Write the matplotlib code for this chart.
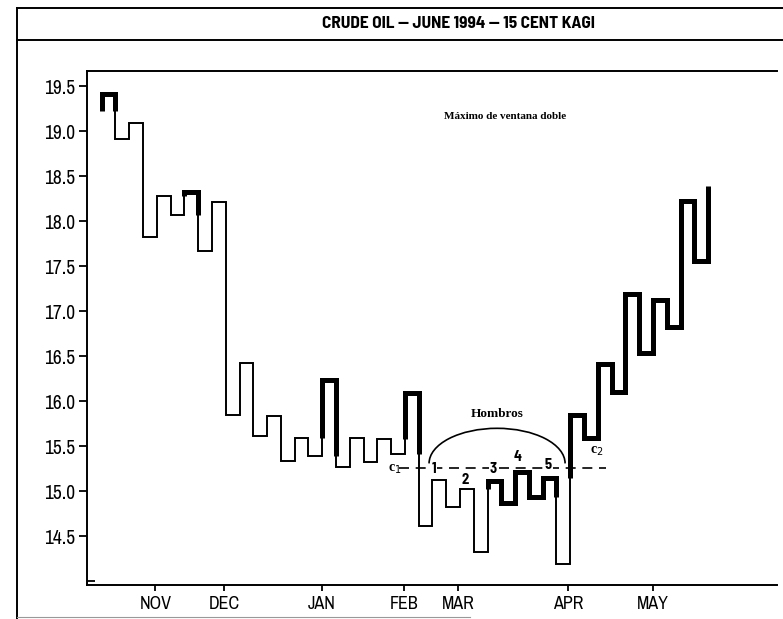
import matplotlib
matplotlib.use("Agg")
import numpy as np
import matplotlib.pyplot as plt
from matplotlib.patches import Arc
from matplotlib.lines import Line2D

# ---- data: 15 cent kagi, reversal prices (crude oil, june 1994) ----
start_price = 19.23
prices = [19.41, 18.91, 19.09, 17.83, 18.28, 18.07, 18.33, 17.67, 18.21, 15.85,
          16.43, 15.61, 15.84, 15.34, 15.59, 15.39, 16.24, 15.27, 15.59, 15.33,
          15.58, 15.41, 16.09, 14.61, 15.13, 14.83, 15.03, 14.33, 15.12, 14.87,
          15.22, 14.94, 15.15, 14.19, 15.85, 15.59, 16.41, 16.10, 17.19, 16.54,
          17.13, 16.83, 18.23, 17.56, 18.39]
months = ["NOV", "DEC", "JAN", "FEB", "MAR", "APR", "MAY"]
month_pos = [3.9, 8.88, 15.99, 21.97, 25.86, 33.87, 40.0]
yticks = [14.5, 15.0, 15.5, 16.0, 16.5, 17.0, 17.5, 18.0, 18.5, 19.0, 19.5]
neckline = 15.26
shoulder_labels = ["1", "2", "3", "4", "5"]
shoulder_x = [24.1, 26.4, 28.4, 30.2, 32.4]
shoulder_y = [15.25, 15.13, 15.25, 15.38, 15.29]

narrow = ["Archivo Narrow", "DejaVu Sans"]
cond_bold = ["Barlow Semi Condensed", "DejaVu Sans"]
serif = ["Liberation Serif", "DejaVu Serif"]

fig = plt.figure(figsize=(7.83, 6.19), dpi=100)
ax = fig.add_axes([0.1107, 0.0549, 0.9923 - 0.1107, 0.8853 - 0.0549])

# ---- kagi line: thick (yang) above last shoulder, thin (yin) below last waist ----
xs = np.arange(len(prices))
runs = []  # (thick, [(x, y), ...])
thick = True
shoulder = None
waist = start_price
cur = [(xs[0], start_price)]
prev = start_price

def flush(pt, new_state):
    global cur, thick
    cur.append(pt)
    runs.append((thick, cur))
    cur = [pt]
    thick = new_state

for i, p in enumerate(prices):
    x = xs[i]
    if p > prev:
        if not thick and shoulder is not None and p > shoulder:
            flush((x, shoulder), True)
        shoulder = p
    else:
        if thick and p < waist:
            flush((x, waist), False)
        waist = p
    cur.append((x, p))
    if i + 1 < len(prices):
        cur.append((xs[i + 1], p))
    prev = p
runs.append((thick, cur))

for is_thick, pts in runs:
    px, py = zip(*pts)
    ax.plot(px, py, color="black", lw=3.6 if is_thick else 1.4,
            solid_joinstyle="miter", solid_capstyle="butt")

# ---- annotations ----
ax.plot([21.6, 36.6], [neckline, neckline], color="black", lw=1.2,
        linestyle=(0, (6, 4)))
ax.add_patch(Arc((28.69, 15.31), 9.87, 0.78, theta1=0, theta2=180,
                 color="black", lw=1.2))
for lab, sx, sy in zip(shoulder_labels, shoulder_x, shoulder_y):
    ax.text(sx, sy, lab, ha="center", va="center", fontsize=10.5,
            fontweight="bold", family=cond_bold,
            bbox=dict(facecolor="white", edgecolor="none", pad=0.6))
ax.text(21.3, 15.25, "c$_1$", ha="center", va="center", fontsize=10,
        fontweight="bold", family=serif)
ax.text(35.95, 15.45, "c$_2$", ha="center", va="center", fontsize=10,
        fontweight="bold", family=serif)
ax.text(28.7, 15.86, "Hombros", ha="center", va="center", fontsize=9.5,
        fontweight="bold", family=serif)
ax.text(29.3, 19.17, "Máximo de ventana doble", ha="center", va="center",
        fontsize=8, fontweight="bold", family=serif)

# ---- axes ----
ax.set_xlim(-1.09, 49.0)
ax.set_ylim(13.959, 19.67)
ax.spines["right"].set_visible(False)
for s in ["left", "bottom", "top"]:
    ax.spines[s].set_linewidth(1.4)
ax.set_xticks(month_pos)
ax.set_xticklabels(months, family=narrow, fontsize=13)
ax.set_yticks(yticks)
ax.set_yticklabels([f"{v:.1f}" for v in yticks], family=narrow, fontsize=14)
ax.set_yticks([14.0], minor=True)
ax.tick_params(axis="y", which="major", direction="out", length=6, width=1.3, pad=2)
ax.tick_params(axis="y", which="minor", direction="in", length=6, width=1.3)
ax.tick_params(axis="x", direction="out", length=4, width=1.3, pad=4)

# ---- outer frame and title ----
fig.add_artist(Line2D([17 / 783, 17 / 783], [0, 1 - 8 / 619],
                      transform=fig.transFigure, color="black", lw=1.4))
for yy in [8, 40]:
    fig.add_artist(Line2D([17 / 783, 1], [1 - yy / 619, 1 - yy / 619],
                          transform=fig.transFigure, color="black", lw=1.4))
fig.add_artist(Line2D([17 / 783, 0.6], [2 / 619, 2 / 619],
                      transform=fig.transFigure, color="#999999", lw=0.8))
fig.text(458 / 783, 1 - 24 / 619, "CRUDE OIL — JUNE 1994 — 15 CENT KAGI",
         ha="center", va="center", fontsize=12.5, fontweight="bold", family=cond_bold)

fig.savefig("out.png", dpi=100)
